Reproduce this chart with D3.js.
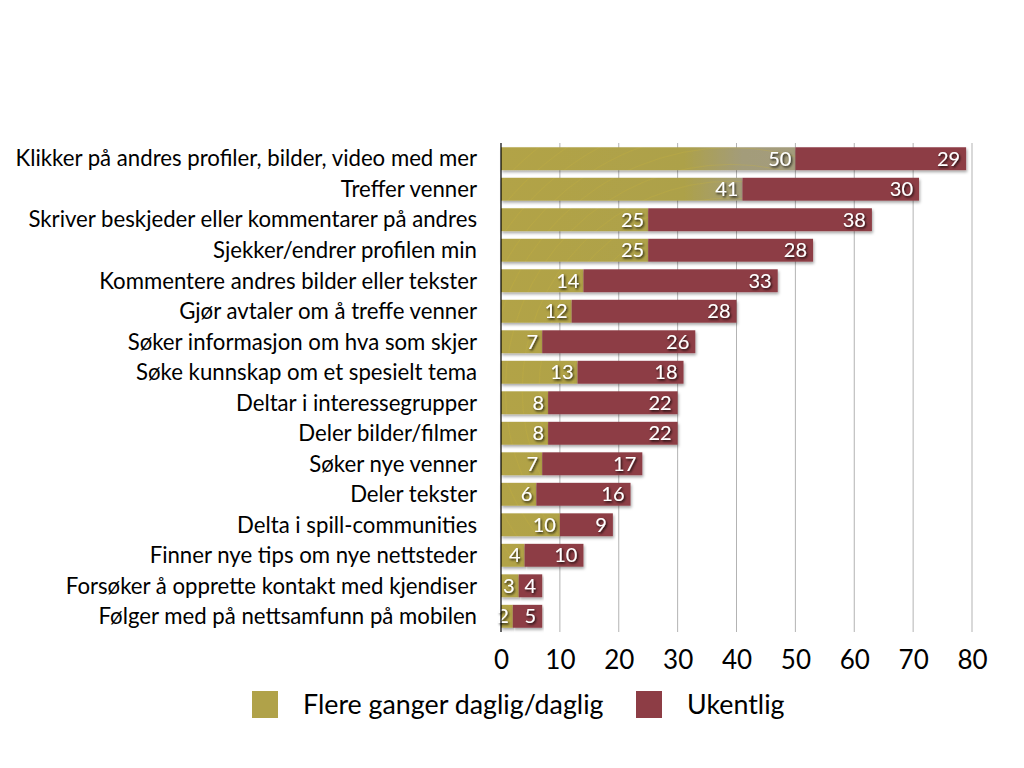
<!DOCTYPE html>
<html><head><meta charset="utf-8">
<script src="https://cdn.jsdelivr.net/npm/d3@7/dist/d3.min.js"></script>
<style>
html,body{margin:0;padding:0;background:#fff;}
svg{display:block;font-family:"Lato","Open Sans",sans-serif;}
</style></head>
<body>
<svg id="chart" width="1024" height="768"></svg>
<script>
const categories = [
  "Klikker på andres profiler, bilder, video med mer",
  "Treffer venner",
  "Skriver beskjeder eller kommentarer på andres",
  "Sjekker/endrer profilen min",
  "Kommentere andres bilder eller tekster",
  "Gjør avtaler om å treffe venner",
  "Søker informasjon om hva som skjer",
  "Søke kunnskap om et spesielt tema",
  "Deltar i interessegrupper",
  "Deler bilder/filmer",
  "Søker nye venner",
  "Deler tekster",
  "Delta i spill-communities",
  "Finner nye tips om nye nettsteder",
  "Forsøker å opprette kontakt med kjendiser",
  "Følger med på nettsamfunn på mobilen"
];
const daily  = [50,41,25,25,14,12,7,13,8,8,7,6,10,4,3,2];
const weekly = [29,30,38,28,33,28,26,18,22,22,17,16,9,10,4,5];
const seriesNames = ["Flere ganger daglig/daglig","Ukentlig"];
const xTicks = [0,10,20,30,40,50,60,70,80];

const svg = d3.select("#chart");
const x = d3.scaleLinear().domain([0,80]).range([501,972]);
const y = d3.scaleBand().domain(categories).range([143,632]).paddingInner(0.25).paddingOuter(0.14);

const defs = svg.append("defs");
const sh = defs.append("filter").attr("id","barShadow").attr("x","-5%").attr("y","-20%").attr("width","110%").attr("height","160%");
sh.append("feDropShadow").attr("dx",1).attr("dy",2).attr("stdDeviation",1.6).attr("flood-color","#000").attr("flood-opacity",0.35);
const ts = defs.append("filter").attr("id","textShadow").attr("x","-30%").attr("y","-30%").attr("width","160%").attr("height","160%");
ts.append("feDropShadow").attr("dx",1.2).attr("dy",1.5).attr("stdDeviation",0.9).attr("flood-color","#000").attr("flood-opacity",0.85);

const g1 = defs.append("linearGradient").attr("id","olive").attr("gradientUnits","userSpaceOnUse")
  .attr("x1",x(0)).attr("x2",x(50)).attr("y1",0).attr("y2",0);
g1.append("stop").attr("offset",0).attr("stop-color","#b2a346");
g1.append("stop").attr("offset",0.62).attr("stop-color","#ada149");
g1.append("stop").attr("offset",0.82).attr("stop-color","#a39c7a");
g1.append("stop").attr("offset",1).attr("stop-color","#a49c7b");

// rings texture pattern (subtle)
const pat = defs.append("pattern").attr("id","rings").attr("patternUnits","userSpaceOnUse")
  .attr("x",0).attr("y",0).attr("width",1024).attr("height",768);
const ringG = pat.append("g");
ringG.append("rect").attr("width",1024).attr("height",768).attr("fill","url(#olive)");
d3.range(20,260,14).forEach(r=>{
  ringG.append("circle").attr("cx",x(0)+230).attr("cy",390).attr("r",r*1.2)
    .attr("fill","none").attr("stroke","#c9b23a").attr("stroke-opacity",0.35).attr("stroke-width",0.8);
});

// gridlines
svg.append("g").selectAll("line").data(xTicks.slice(1)).join("line")
  .attr("x1",d=>x(d)).attr("x2",d=>x(d)).attr("y1",143).attr("y2",632)
  .attr("stroke","#b3b3b3").attr("stroke-width",1);

// bars
const rows = svg.append("g").selectAll("g").data(categories).join("g");
rows.append("rect")
  .attr("x",x(0)).attr("y",d=>y(d)).attr("height",y.bandwidth())
  .attr("width",(d,i)=>x(daily[i])-x(0))
  .attr("fill","url(#rings)").attr("filter","url(#barShadow)");
rows.append("rect")
  .attr("x",(d,i)=>x(daily[i])).attr("y",d=>y(d)).attr("height",y.bandwidth())
  .attr("width",(d,i)=>x(daily[i]+weekly[i])-x(daily[i]))
  .attr("fill","#8d3d45").attr("filter","url(#barShadow)");

// value labels
rows.append("text")
  .attr("x",(d,i)=>x(daily[i])-4).attr("y",d=>y(d)+y.bandwidth()/2)
  .attr("dy","0.36em").attr("text-anchor","end")
  .attr("fill","#fff").attr("font-size",20).attr("filter","url(#textShadow)")
  .text((d,i)=>daily[i]);
rows.append("text")
  .attr("x",(d,i)=>x(daily[i]+weekly[i])-6).attr("y",d=>y(d)+y.bandwidth()/2)
  .attr("dy","0.36em").attr("text-anchor","end")
  .attr("fill","#fff").attr("font-size",20).attr("filter","url(#textShadow)")
  .text((d,i)=>weekly[i]);

// axis line
svg.append("line").attr("x1",x(0)).attr("x2",x(0)).attr("y1",143).attr("y2",632)
  .attr("stroke","#000").attr("stroke-width",1.2);

// category labels
svg.append("g").selectAll("text").data(categories).join("text")
  .attr("x",477).attr("y",d=>y(d)+y.bandwidth()/2).attr("dy","0.35em")
  .attr("text-anchor","end").attr("font-size",22.2).attr("fill","#000")
  .text(d=>d);

// x axis tick labels
const xAxis = d3.axisBottom(x).tickValues(xTicks).tickSize(0).tickPadding(0);
const ax = svg.append("g").attr("transform","translate(0,651)").call(xAxis);
ax.select(".domain").remove();
ax.selectAll("text").attr("font-size",26).attr("fill","#000").attr("font-family","Lato, sans-serif");

// legend
const legX = [252,636];
const leg = svg.append("g").selectAll("g").data(seriesNames).join("g");
leg.append("rect").attr("x",(d,i)=>legX[i]).attr("y",691).attr("width",26).attr("height",27)
  .attr("fill",(d,i)=>i===0?"#b0a249":"#8d3d45");
leg.append("text").attr("x",(d,i)=>legX[i]+51).attr("y",705).attr("dy","0.35em")
  .attr("font-size",26.8).attr("fill","#000").text(d=>d);
</script>
</body></html>
